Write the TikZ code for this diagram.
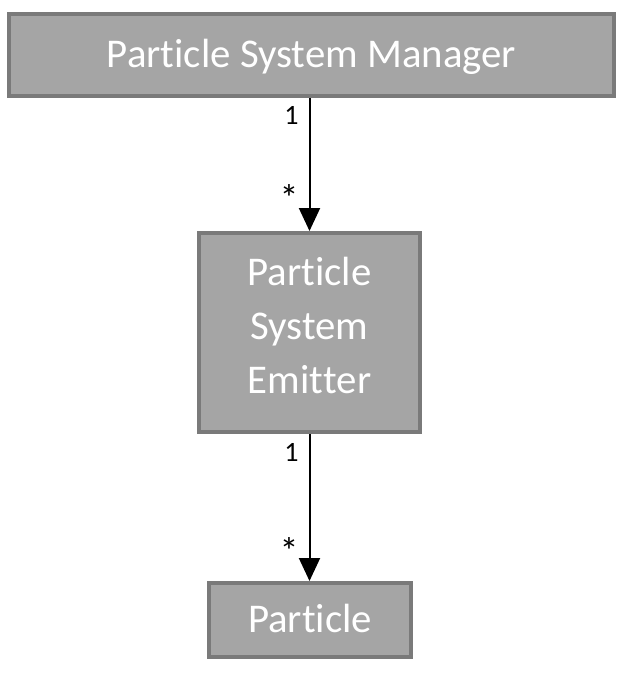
\documentclass[tikz,border=0pt]{standalone}
\usepackage{fontspec}
\setmainfont{Carlito}[Ligatures={NoCommon,NoRequired,NoContextual}]
\usetikzlibrary{arrows.meta}
\definecolor{boxfill}{HTML}{A5A5A5}
\definecolor{boxline}{HTML}{7A7A7A}
\newcommand\nolig{\kern0pt}

\begin{document}
\begin{tikzpicture}[x=1pt, y=-1pt, >={Triangle[width=21pt,length=23pt]},
  class/.style={draw=boxline, line width=4pt, fill=boxfill, text=white, inner sep=0pt, align=center, font=\fontsize{40.8}{54}\selectfont, text height=25.5pt, text depth=0pt},
  mult/.style={anchor=base east, inner sep=0pt, xshift=-10pt, font=\fontsize{28}{32}\selectfont},
  many/.style={mult, font=\fontsize{38}{40}\selectfont}]
  \useasboundingbox (0, 0) rectangle (626, 673);
  \draw (311.5, 55.0)node[class, minimum width=605pt, minimum height=82pt](psm){Part\nolig icle System Manager};
  \draw (309.5, 332.5)node[class, minimum width=221pt, minimum height=199pt, text height=121pt](pse){Part\nolig icle\\System\\Emit\nolig t\nolig er};
  \draw (310.0, 620.0)node[class, minimum width=202pt, minimum height=74pt](p){Part\nolig icle};
  \path[->, line width=2pt] (psm.south -| pse.north) edge node[mult, pos=0.2]{1} node[many, pos=0.85]{*}(pse.north);
  \path[->, line width=2pt] (pse.south) edge node[mult, pos=0.19]{1} node[many, pos=0.885]{*}(pse.south |- p.north);
\end{tikzpicture}
\end{document}
